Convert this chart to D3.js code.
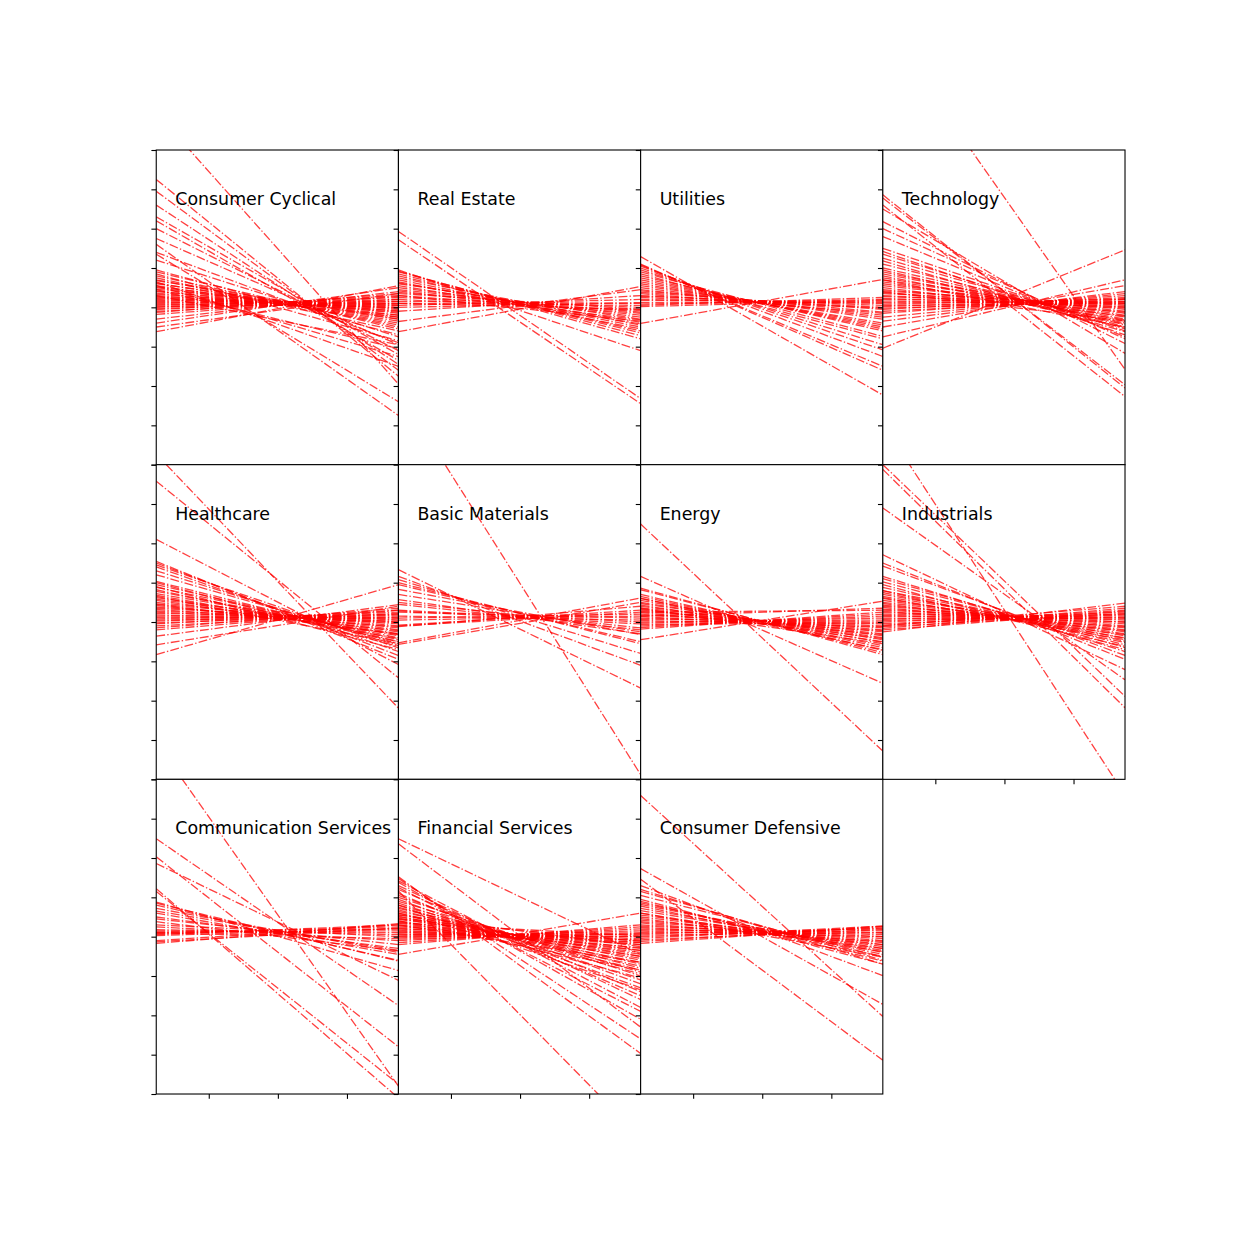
<!DOCTYPE html>
<html>
<head>
<meta charset="utf-8">
<script src="https://cdn.jsdelivr.net/npm/d3@7"></script>
<style>
  body { margin: 0; background: #fff; }
  svg { display: block; }
  text { font-family: "DejaVu Sans", sans-serif; }
</style>
</head>
<body>
<svg id="chart" width="1250" height="1250"></svg>
<script>
// ── Data ─────────────────────────────────────────────────────────────────────
// Each pair is [value at left edge, value at right edge] of one dash-dot line.

const sectors = [
  'Consumer Cyclical', 'Real Estate', 'Utilities', 'Technology',
  'Healthcare', 'Basic Materials', 'Energy', 'Industrials',
  'Communication Services', 'Financial Services', 'Consumer Defensive'
];

const xTicks = [0, 1, 2];
const xExtent = [-0.76, 2.745];
const yTicks = [-4, -3, -2, -1, 0, 1, 2, 3, 4];
const yExtent = [-4, 4];

const consumerCyclical = [
  [4.95, -1.95], [3.25, -1.75], [2.95, -1.6], [2.6, -1.45], [2.3, -1.2], [2.2, -1.35],
  [2.0, -1.1], [1.75, -0.95], [1.6, -2.75], [1.35, -2.4], [1.4, -0.9], [1.2, -0.75],
  [0.95, -0.7], [0.9, -0.55], [0.85, -0.85], [0.8, -0.5], [0.75, -0.6], [0.7, -0.45],
  [0.68, -0.3], [0.62, -0.4], [0.6, -0.25], [0.55, -0.35], [0.52, -0.2], [0.5, -0.3],
  [0.46, -0.15], [0.42, -0.25], [0.4, -0.1], [0.36, -0.2], [0.33, -0.05], [0.3, -0.12],
  [0.27, 0.0], [0.25, -0.08], [0.22, 0.05], [0.2, -0.02], [0.17, 0.1], [0.15, 0.0],
  [0.12, 0.08], [0.1, 0.15], [0.07, 0.05], [0.05, 0.2], [0.02, 0.1], [0.0, 0.25],
  [-0.03, 0.15], [-0.06, 0.3], [-0.1, 0.2], [-0.13, 0.35], [-0.18, 0.28], [-0.3, 0.4],
  [-0.4, 0.5], [-0.5, 0.35], [-0.62, 0.55], [0.45, -1.05], [0.3, -0.95], [0.55, -1.25],
  [0.65, -1.5]
];

const realEstate = [
  [1.93, -2.32], [1.72, -2.45], [0.95, -1.1], [0.92, -0.8], [0.9, -0.72], [0.8, -0.6],
  [0.75, -0.45], [0.7, -0.5], [0.62, -0.38], [0.6, -0.3], [0.55, -0.42], [0.5, -0.25],
  [0.45, -0.2], [0.42, -0.32], [0.38, -0.12], [0.35, -0.05], [0.3, -0.15], [0.25, 0.0],
  [0.2, -0.08], [0.15, 0.1], [0.1, 0.05], [0.05, 0.2], [0.0, 0.12], [-0.1, 0.3],
  [-0.36, 0.45], [-0.62, 0.53], [0.3, -0.35], [0.65, -0.55], [0.85, -0.65], [0.1, -0.05]
];

const utilities = [
  [1.29, -2.23], [1.1, -1.6], [1.08, -1.5], [1.05, -1.25], [1.0, -1.08], [0.95, -0.95],
  [0.9, -0.74], [0.85, -0.8], [0.8, -0.6], [0.75, -0.55], [0.7, -0.5], [0.65, -0.45],
  [0.6, -0.4], [0.55, -0.3], [0.5, -0.25], [0.45, -0.2], [0.42, -0.12], [0.38, -0.05],
  [0.35, -0.15], [0.3, 0.0], [0.28, 0.05], [0.25, -0.02], [0.2, 0.1], [0.17, 0.15],
  [0.12, 0.12], [0.08, 0.2], [0.05, 0.25], [0.02, 0.18], [-0.41, 0.71]
];

const technology = [
  [7.2, -1.58], [2.86, -2.05], [2.78, -1.97], [2.6, -2.27], [2.5, -1.17], [2.18, -0.92],
  [2.0, -0.8], [1.8, -0.75], [1.5, -0.6], [1.42, -0.7], [1.35, -0.55], [1.25, -0.5],
  [1.18, -0.62], [1.1, -0.45], [1.0, -0.4], [0.95, -0.52], [0.9, -0.35], [0.85, -0.3],
  [0.8, -0.42], [0.75, -0.25], [0.7, -0.2], [0.65, -0.32], [0.6, -0.15], [0.55, -0.1],
  [0.5, -0.22], [0.45, -0.05], [0.42, 0.0], [0.38, -0.12], [0.35, 0.05], [0.3, -0.02],
  [0.27, 0.1], [0.23, 0.02], [0.2, 0.12], [0.16, 0.08], [0.12, 0.15], [0.08, 0.2],
  [0.05, 0.1], [0.02, 0.22], [-0.02, 0.15], [-0.05, 0.25], [-0.1, 0.2], [-0.15, 0.3],
  [-0.25, 0.35], [-0.35, 0.4], [-0.5, 0.55], [-0.75, 0.7], [-1.04, 1.46], [0.4, -0.35],
  [0.7, -0.5]
];

const healthcare = [
  [4.27, -2.19], [3.58, -1.42], [2.1, -1.08], [1.54, -0.95], [1.5, -0.85], [1.45, -0.66],
  [1.4, -0.75], [1.3, -0.6], [1.2, -0.55], [1.03, -0.5], [1.0, -0.62], [0.95, -0.45],
  [0.88, -0.4], [0.82, -0.5], [0.78, -0.35], [0.72, -0.3], [0.68, -0.42], [0.62, -0.25],
  [0.58, -0.2], [0.55, -0.32], [0.5, -0.15], [0.46, -0.1], [0.42, -0.22], [0.38, -0.05],
  [0.35, 0.0], [0.32, -0.12], [0.28, 0.05], [0.25, -0.02], [0.22, 0.1], [0.18, 0.02],
  [0.15, 0.15], [0.12, 0.08], [0.08, 0.2], [0.05, 0.12], [0.02, 0.25], [-0.02, 0.18],
  [-0.05, 0.3], [-0.1, 0.22], [-0.15, 0.35], [-0.2, 0.3], [-0.36, 0.44], [-0.58, 0.4],
  [-0.83, 0.95], [0.65, -0.55], [0.9, -0.7], [0.45, -0.3]
];

const basicMaterials = [
  [5.88, -3.88], [1.33, -1.68], [1.16, -1.1], [1.08, -0.8], [1.0, -0.55], [0.95, -0.5],
  [0.83, -0.32], [0.7, -0.25], [0.57, -0.3], [0.5, -0.15], [0.45, -0.2], [0.3, 0.0],
  [0.28, -0.05], [0.25, 0.1], [0.15, 0.05], [0.1, 0.2], [0.05, 0.15], [-0.08, 0.3],
  [-0.1, 0.25], [-0.12, 0.4], [-0.53, 0.61], [-0.57, 0.5]
];

const energy = [
  [2.49, -3.28], [1.16, -1.56], [0.86, -0.83], [0.82, -0.78], [0.7, -0.72], [0.65, -0.65],
  [0.6, -0.6], [0.55, -0.52], [0.5, -0.45], [0.47, -0.4], [0.43, -0.5], [0.4, -0.35],
  [0.36, -0.3], [0.33, -0.42], [0.3, -0.25], [0.27, -0.2], [0.24, -0.32], [0.2, -0.15],
  [0.17, -0.1], [0.14, -0.22], [0.1, -0.05], [0.07, 0.0], [0.04, -0.12], [0.0, 0.05],
  [-0.03, 0.1], [-0.06, -0.02], [-0.1, 0.15], [-0.14, 0.2], [-0.18, 0.25], [-0.45, 0.53],
  [0.25, 0.3], [0.15, 0.35], [0.6, -0.7], [0.35, -0.55]
];

const industrials = [
  [5.04, -4.4], [4.0, -1.89], [3.88, -2.18], [2.9, -1.47], [1.71, -1.21], [1.5, -0.95],
  [1.42, -0.85], [1.16, -0.75], [1.1, -0.65], [1.02, -0.58], [0.95, -0.7], [0.88, -0.49],
  [0.8, -0.42], [0.75, -0.52], [0.7, -0.35], [0.65, -0.3], [0.6, -0.4], [0.55, -0.25],
  [0.5, -0.2], [0.47, -0.32], [0.43, -0.15], [0.4, -0.1], [0.37, -0.22], [0.33, -0.05],
  [0.3, 0.0], [0.27, -0.12], [0.24, 0.05], [0.2, 0.1], [0.17, 0.0], [0.14, 0.15],
  [0.1, 0.08], [0.07, 0.2], [0.04, 0.12], [0.0, 0.25], [-0.04, 0.18], [-0.08, 0.3],
  [-0.12, 0.22], [-0.16, 0.35], [-0.2, 0.28], [-0.25, 0.48], [-0.1, 0.4], [0.8, -0.62],
  [0.62, -0.45]
];

const communicationServices = [
  [4.94, -3.8], [2.49, -1.75], [2.03, -2.8], [1.86, -1.11], [1.22, -4.1], [1.15, -3.75],
  [0.88, -0.86], [0.85, -0.62], [0.8, -0.6], [0.72, -0.4], [0.65, -0.35], [0.6, -0.45],
  [0.5, -0.3], [0.45, -0.2], [0.38, -0.36], [0.3, 0.0], [0.25, -0.1], [0.18, 0.05],
  [0.15, 0.1], [0.12, 0.2], [0.1, 0.15], [0.08, 0.25], [0.05, 0.3], [0.03, 0.2],
  [-0.1, 0.3], [-0.13, 0.22], [-0.17, 0.33], [0.1, -0.05]
];

const financialServices = [
  [2.49, -0.45], [2.36, -2.3], [1.16, -5.1], [1.52, -2.97], [1.48, -2.6], [1.42, -1.8],
  [1.38, -2.1], [1.3, -1.6], [1.25, -1.9], [1.2, -1.4], [1.1, -1.5], [1.05, -1.2],
  [1.0, -1.0], [0.95, -1.3], [0.9, -0.9], [0.85, -1.1], [0.8, -0.8], [0.75, -0.95],
  [0.72, -0.7], [0.68, -0.85], [0.64, -0.6], [0.6, -0.75], [0.56, -0.5], [0.52, -0.65],
  [0.5, -0.45], [0.47, -0.55], [0.44, -0.35], [0.4, -0.5], [0.37, -0.3], [0.34, -0.4],
  [0.3, -0.2], [0.28, -0.35], [0.25, -0.15], [0.22, -0.28], [0.2, -0.1], [0.17, -0.2],
  [0.14, -0.05], [0.12, -0.15], [0.1, 0.0], [0.07, -0.08], [0.05, 0.05], [0.02, 0.1],
  [0.0, 0.0], [-0.03, 0.15], [-0.06, 0.08], [-0.1, 0.2], [-0.15, 0.25], [-0.2, 0.3],
  [-0.45, 0.6], [0.55, -0.25], [0.45, -0.12], [0.35, 0.02], [0.6, -1.05], [0.4, -0.85],
  [0.8, -1.35], [0.3, -0.65]
];

const consumerDefensive = [
  [3.59, -2.03], [1.73, -1.72], [1.46, -3.14], [1.3, -0.99], [1.2, -0.7], [1.15, -0.6],
  [1.05, -0.52], [0.86, -0.45], [0.82, -0.4], [0.78, -0.5], [0.72, -0.35], [0.66, -0.3],
  [0.6, -0.38], [0.55, -0.25], [0.5, -0.2], [0.46, -0.3], [0.42, -0.15], [0.38, -0.1],
  [0.35, -0.2], [0.3, -0.05], [0.27, 0.0], [0.24, -0.12], [0.2, 0.05], [0.17, 0.1],
  [0.14, 0.0], [0.1, 0.15], [0.07, 0.2], [0.04, 0.1], [0.0, 0.22], [-0.04, 0.27],
  [-0.08, 0.18], [-0.12, 0.25], [-0.17, 0.27], [0.9, -0.62], [0.6, -0.52], [0.95, -0.7]
];

const sectorLines = [
  consumerCyclical, realEstate, utilities, technology,
  healthcare, basicMaterials, energy, industrials,
  communicationServices, financialServices, consumerDefensive
];

// ── Layout ───────────────────────────────────────────────────────────────────

const nCols = 4;
const gridLeft = 156.25, gridTop = 150;
const cellW = 242.19, cellH = 314.67;
const tickLen = 4.86;

const svg = d3.select('#chart');
svg.append('rect').attr('width', 1250).attr('height', 1250).attr('fill', '#fff');

const x = d3.scaleLinear().domain(xExtent).range([0, cellW]);
const y = d3.scaleLinear().domain(yExtent).range([cellH, 0]);

const line = d3.line()
  .x(d => x(d[0]))
  .y(d => y(d[1]));

sectors.forEach((name, i) => {
  const col = i % nCols, row = Math.floor(i / nCols);
  const g = svg.append('g')
    .attr('transform', `translate(${gridLeft + col * cellW},${gridTop + row * cellH})`);

  g.append('rect')
    .attr('width', cellW).attr('height', cellH)
    .attr('fill', '#fff');

  const clipId = 'clip' + i;
  g.append('clipPath').attr('id', clipId)
    .append('rect').attr('width', cellW).attr('height', cellH);

  g.append('g').attr('clip-path', `url(#${clipId})`)
    .selectAll('path')
    .data(sectorLines[i])
    .join('path')
    .attr('d', d => line([[xExtent[0], d[0]], [xExtent[1], d[1]]]))
    .attr('fill', 'none')
    .attr('stroke', '#ff0000')
    .attr('stroke-opacity', 0.75)
    .attr('stroke-width', 1.3)
    .attr('stroke-dasharray', '8.9,2.2,1.4,2.2');

  // label
  g.append('text')
    .attr('x', 19)
    .attr('y', 55)
    .attr('font-size', 17.4)
    .attr('fill', '#000')
    .text(name);

  // axes (ticks only, no labels)
  const ya = g.append('g')
    .call(d3.axisLeft(y).tickValues(yTicks).tickSize(tickLen).tickFormat(''));
  const xa = g.append('g')
    .attr('transform', `translate(0,${cellH})`)
    .call(d3.axisBottom(x).tickValues(xTicks).tickSize(tickLen).tickFormat(''));
  [ya, xa].forEach(a => {
    a.select('.domain').remove();
    a.selectAll('line').attr('stroke', '#000').attr('stroke-width', 1.1);
  });

  // spines
  g.append('rect')
    .attr('width', cellW).attr('height', cellH)
    .attr('fill', 'none')
    .attr('stroke', '#000')
    .attr('stroke-width', 1.1);
});
</script>
</body>
</html>
